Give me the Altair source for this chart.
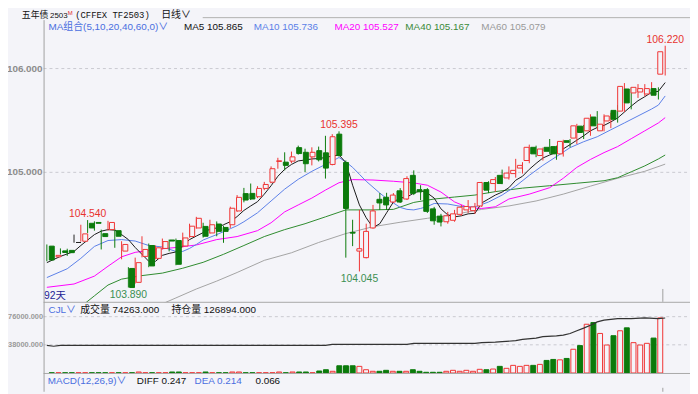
import altair as alt
import pandas as pd

# ---------------- values ----------------
opens = [104.289, 104.186, 104.243, 104.248, 104.324, 104.336, 104.509, 104.517, 104.409, 104.448,
         104.438, 104.241, 104.074, 103.940, 104.190, 104.295, 104.171, 104.267, 104.348, 104.343,
         104.290, 104.381, 104.464, 104.479, 104.416, 104.502, 104.469, 104.495, 104.628, 104.795,
         104.797, 104.765, 104.845, 104.905, 105.105, 105.098, 105.108, 105.238, 105.193, 105.149,
         105.209, 105.188, 105.076, 105.368, 105.095, 104.421, 104.241, 104.178, 104.464, 104.740,
         104.760, 104.714, 104.822, 104.743, 104.971, 104.833, 104.833, 104.648, 104.578, 104.524,
         104.538, 104.595, 104.638, 104.631, 104.676, 104.902, 104.892, 104.971, 104.946, 104.988,
         105.041, 105.114, 105.241, 105.162, 105.241, 105.248, 105.178, 105.305, 105.330, 105.445,
         105.400, 105.533, 105.400, 105.495, 105.597, 105.590, 105.803, 105.765, 105.774, 105.755,
         105.807, 105.946]
closes = [104.155, 104.200, 104.228, 104.226, 104.324, 104.407, 104.464, 104.509, 104.381, 104.517,
          104.384, 104.305, 103.890, 104.130, 104.257, 104.098, 104.273, 104.333, 104.338, 104.114,
          104.368, 104.481, 104.557, 104.384, 104.495, 104.431, 104.431, 104.654, 104.759, 104.733,
          104.743, 104.845, 104.883, 105.035, 105.111, 105.067, 105.149, 105.181, 105.083, 105.193,
          105.121, 105.041, 105.343, 105.162, 104.652, 104.414, 104.264, 104.431, 104.628, 104.705,
          104.686, 104.781, 104.714, 104.940, 104.797, 104.812, 104.624, 104.533, 104.521, 104.581,
          104.600, 104.664, 104.671, 104.667, 104.902, 104.828, 104.930, 104.892, 104.993, 105.019,
          105.067, 105.241, 105.178, 105.225, 105.203, 105.178, 105.298, 105.289, 105.448, 105.384,
          105.521, 105.448, 105.464, 105.543, 105.511, 105.828, 105.669, 105.819, 105.807, 105.807,
          105.743, 106.162]
highs = [104.305, 104.219, 104.267, 104.264, 104.400, 104.495, 104.540, 104.528, 104.448, 104.533,
         104.457, 104.336, 104.086, 104.178, 104.384, 104.314, 104.295, 104.362, 104.352, 104.362,
         104.419, 104.505, 104.571, 104.514, 104.543, 104.527, 104.486, 104.669, 104.781, 104.850,
         104.892, 104.867, 104.908, 105.057, 105.140, 105.193, 105.200, 105.257, 105.228, 105.241,
         105.248, 105.352, 105.368, 105.395, 105.114, 104.543, 104.638, 104.505, 104.686, 104.800,
         104.803, 104.800, 104.848, 104.962, 105.019, 104.876, 104.848, 104.667, 104.600, 104.619,
         104.638, 104.686, 104.733, 104.705, 104.908, 104.914, 104.955, 105.026, 105.057, 105.130,
         105.098, 105.267, 105.257, 105.238, 105.321, 105.257, 105.314, 105.321, 105.467, 105.457,
         105.559, 105.590, 105.559, 105.574, 105.648, 105.860, 105.819, 105.850, 105.850, 105.869,
         105.819, 106.220]
lows = [104.143, 104.171, 104.209, 104.195, 104.322, 104.333, 104.416, 104.438, 104.257, 104.438,
        104.273, 104.162, 103.890, 103.928, 104.181, 104.086, 104.162, 104.257, 104.238, 104.105,
        104.276, 104.371, 104.457, 104.371, 104.409, 104.384, 104.321, 104.464, 104.619, 104.711,
        104.733, 104.752, 104.828, 104.895, 105.035, 105.019, 105.088, 105.171, 105.003, 105.067,
        105.105, 104.940, 105.067, 105.152, 104.178, 104.289, 104.045, 104.171, 104.457, 104.638,
        104.638, 104.705, 104.705, 104.733, 104.781, 104.733, 104.609, 104.495, 104.479, 104.505,
        104.524, 104.581, 104.609, 104.600, 104.667, 104.800, 104.812, 104.886, 104.930, 104.949,
        104.988, 105.088, 105.146, 105.114, 105.178, 105.121, 105.152, 105.241, 105.273, 105.321,
        105.352, 105.426, 105.395, 105.426, 105.479, 105.581, 105.607, 105.717, 105.733, 105.743,
        105.702, 105.933]
volumes = [300, 300, 300, 300, 300, 300, 300, 300, 300, 300,
           300, 300, 300, 1330, 300, 300, 300, 300, 1330, 1330,
           300, 300, 300, 1330, 300, 300, 300, 1330, 1330, 300,
           300, 300, 300, 300, 1330, 300, 1330, 1330, 1330, 300,
           2670, 4400, 2270, 9730, 9730, 9730, 8930, 4400, 2270, 2270,
           3600, 2270, 2270, 2270, 4400, 2270, 930, 930, 930, 2270,
           3600, 2270, 3600, 2270, 4930, 4400, 5330, 8930, 6270, 10270,
           8930, 10270, 10270, 11600, 16930, 18270, 17730, 19600, 32000, 36930,
           65730, 68000, 53330, 37730, 50270, 56930, 60930, 40930, 37730, 40000,
           47070, 74263]

ma5_idx = [0, 2, 4, 5, 7] + list(range(8, 92))
ma5_val = [104.130, 104.190, 104.238, 104.295, 104.400,
           104.433, 104.448, 104.443, 104.400, 104.352, 104.276, 104.210, 104.143, 104.143, 104.200,
           104.219, 104.233, 104.290, 104.352, 104.386, 104.419, 104.452, 104.464, 104.495, 104.524,
           104.574, 104.633, 104.676, 104.717, 104.790, 104.871, 104.962, 105.029, 105.076, 105.110,
           105.119, 105.129, 105.133, 105.143, 105.157, 105.167, 105.095, 104.876, 104.686, 104.562,
           104.467, 104.505, 104.610, 104.714, 104.752, 104.762, 104.800, 104.824, 104.800, 104.752,
           104.648, 104.590, 104.571, 104.581, 104.600, 104.605, 104.705, 104.743, 104.781, 104.810,
           104.852, 104.924, 104.962, 105.029, 105.086, 105.138, 105.167, 105.195, 105.226, 105.267,
           105.310, 105.352, 105.400, 105.432, 105.452, 105.486, 105.524, 105.581, 105.638, 105.690,
           105.729, 105.771, 105.781, 105.865]
ma10_idx = [0, 3, 5, 7, 9, 11, 13, 15, 17, 19, 20, 21, 22, 23, 25, 27, 28, 29, 31, 33,
            35, 37, 39, 41, 43, 44, 45, 46, 47, 48, 49, 50, 51, 52, 53, 54, 55, 56, 57, 59,
            61, 63, 65, 67, 69, 71, 73, 75, 77, 79, 81, 83, 85, 87, 89, 90, 91]
ma10_val = [103.986, 104.071, 104.171, 104.286, 104.343, 104.352, 104.338, 104.295, 104.281, 104.238,
            104.238, 104.267, 104.305, 104.348, 104.400, 104.457, 104.486, 104.524, 104.610, 104.724,
            104.838, 104.933, 105.010, 105.076, 105.143, 105.100, 105.048, 104.981, 104.914, 104.857,
            104.800, 104.748, 104.705, 104.662, 104.643, 104.638, 104.652, 104.671, 104.700, 104.695,
            104.671, 104.667, 104.714, 104.781, 104.867, 104.971, 105.067, 105.152, 105.238, 105.295,
            105.343, 105.410, 105.476, 105.543, 105.610, 105.648, 105.736]
ma20_idx = [0, 4, 7, 9, 11, 13, 16, 19, 22, 25, 28, 31, 33, 35, 37, 39, 41, 43, 45, 48,
            51, 54, 56, 58, 60, 62, 64, 66, 68, 71, 74, 76, 78, 80, 82, 84, 86, 88, 90, 91]
ma20_val = [103.892, 103.924, 104.000, 104.095, 104.186, 104.229, 104.257, 104.276, 104.300, 104.352,
            104.381, 104.438, 104.514, 104.619, 104.686, 104.752, 104.829, 104.900, 104.930, 104.926,
            104.914, 104.898, 104.876, 104.810, 104.715, 104.660, 104.652, 104.668, 104.743, 104.790,
            104.852, 104.943, 105.048, 105.124, 105.190, 105.248, 105.324, 105.400, 105.476, 105.527]
ma40_idx = [5, 7, 9, 11, 14, 17, 20, 23, 26, 29, 32, 35, 38, 41, 44, 48, 51, 54, 57, 60,
            63, 66, 70, 74, 78, 82, 84, 86, 88, 90, 91]
ma40_val = [103.705, 103.810, 103.914, 103.971, 104.005, 104.029, 104.076, 104.133, 104.210, 104.295,
            104.381, 104.448, 104.505, 104.571, 104.638, 104.638, 104.643, 104.710, 104.743, 104.762,
            104.781, 104.814, 104.848, 104.871, 104.895, 104.919, 104.948, 105.005, 105.062, 105.129,
            105.167]
ma60_idx = [16, 19, 22, 25, 28, 32, 36, 40, 44, 48, 52, 56, 60, 64, 68, 72, 76, 80, 84, 88, 91]
ma60_val = [103.705, 103.790, 103.876, 103.952, 104.035, 104.152, 104.225, 104.324, 104.410, 104.476,
            104.519, 104.557, 104.595, 104.643, 104.676, 104.724, 104.790, 104.867, 104.943, 105.010,
            105.079]
oi_idx = [0, 1, 2, 41, 42, 53, 54, 63, 64, 66, 67, 69, 70, 72, 73, 75, 76, 77, 78, 79,
          80, 81, 82, 84, 86, 88, 90, 91]
oi_val = [63900, 61700, 63900, 63900, 66100, 66100, 68400, 68400, 70000, 71000,
          72300, 74500, 77500, 80500, 83700, 85500, 87300, 91000, 97400, 103500,
          110200, 118000, 122000, 125400, 125500, 127000, 125400, 126894]

hi_lab_idx = [6, 43, 91]
hi_lab_val = [104.540, 105.395, 106.220]
lo_lab_idx = [12, 46]
lo_lab_val = [103.890, 104.045]

price_ticks = [105.0, 106.0]
price_tick_labels = ["105.000", "106.000"]
vol_ticks = [38000, 76000]
vol_tick_labels = ["38000.000", "76000.000"]

# ---------------- styles ----------------
BG = "#f4f4f9"
RED = "#f03434"
GREEN = "#0b7a0b"
LBL_RED = "#e8322e"
LBL_GREEN = "#3b8f52"
BLUE_TXT = "#4a6ee0"
SANS = "Liberation Sans, Noto Sans CJK SC, sans-serif"
CJK = "Noto Sans CJK SC, sans-serif"
MONO = "Liberation Mono, monospace"

X_RNG = [39.3, 664.9]


def XE():
    return alt.X("i:Q", scale=alt.Scale(domain=[0, 91], range=X_RNG, nice=False, zero=False), axis=None)


def PY(f):
    return alt.Y(f + ":Q", scale=alt.Scale(domain=[104, 106], range=[269, 59], nice=False, zero=False), axis=None)


def VY(f):
    return alt.Y(f + ":Q", scale=alt.Scale(domain=[0, 76000], range=[367, 310], nice=False), axis=None)


def OY(f):
    return alt.Y(f + ":Q", scale=alt.Scale(domain=[0, 130000], range=[367, 310], nice=False), axis=None)


cdf = pd.DataFrame({"i": list(range(len(opens))), "o": opens, "h": highs, "l": lows,
                    "c": closes, "vol": volumes})
cdf["d"] = ["up" if c > o else ("down" if c < o else "flat") for o, c in zip(opens, closes)]

one = pd.DataFrame({"a": [0]})


def hrule(y, x1, x2, color, dash=None, w=1):
    kw = dict(color=color, strokeWidth=w)
    if dash:
        kw["strokeDash"] = dash
    return alt.Chart(one).mark_rule(**kw).encode(x=alt.value(x1), x2=alt.value(x2), y=alt.value(y))


def vrule(x, y1, y2, color, w=1):
    return alt.Chart(one).mark_rule(color=color, strokeWidth=w).encode(
        x=alt.value(x), y=alt.value(y1), y2=alt.value(y2))


def txt(x, y, s, color, size=10, weight="normal", font=SANS, align="left", baseline="alphabetic"):
    return alt.Chart(one).mark_text(color=color, fontSize=size, fontWeight=weight, font=font,
                                    align=align, baseline=baseline).encode(
        x=alt.value(x), y=alt.value(y), text=alt.value(s))


layers = []

# price grid + labels
pg = pd.DataFrame({"p": price_ticks, "lab": price_tick_labels})
layers.append(alt.Chart(pg).mark_rule(color="#c9c9d0", strokeDash=[3, 3], strokeWidth=1).encode(
    y=PY("p"), x=alt.value(36), x2=alt.value(690)))
layers.append(alt.Chart(pg).mark_text(align="right", baseline="middle", font=SANS, fontSize=10,
                                      fontWeight="bold", color="#8c8c8c").encode(
    y=PY("p"), x=alt.value(35), text="lab:N"))

# moving averages
for ix, vals, col in [(ma60_idx, ma60_val, "#a3a3a3"), (ma40_idx, ma40_val, "#2e8b2e"),
                      (ma20_idx, ma20_val, "#ff00ff"), (ma10_idx, ma10_val, "#5b7fe8"),
                      (ma5_idx, ma5_val, "#1a1a1a")]:
    d = pd.DataFrame({"i": ix, "v": vals})
    layers.append(alt.Chart(d).mark_line(color=col, strokeWidth=1).encode(x=XE(), y=PY("v")))

# candles
layers.append(alt.Chart(cdf).mark_rule(strokeWidth=1).encode(
    x=XE(), y=PY("l"), y2="h:Q",
    color=alt.Color("d:N", scale=alt.Scale(domain=["up", "down", "flat"], range=[RED, GREEN, "#222222"]),
                    legend=None)))
layers.append(alt.Chart(cdf).transform_filter("datum.d == 'up'").mark_bar(
    size=5, fill=BG, stroke=RED, strokeWidth=1).encode(x=XE(), y=PY("o"), y2="c:Q"))
layers.append(alt.Chart(cdf).transform_filter("datum.d == 'down'").mark_bar(
    size=5, fill=GREEN, stroke=GREEN, strokeWidth=1).encode(x=XE(), y=PY("o"), y2="c:Q"))
layers.append(alt.Chart(cdf).transform_filter("datum.d == 'flat'").mark_bar(
    size=5, fill="#222222", stroke="#222222", strokeWidth=1).encode(x=XE(), y=PY("o"), y2="c:Q"))

# high / low annotations
hl = pd.DataFrame({"i": hi_lab_idx, "p": hi_lab_val, "lab": [f"{v:.3f}" for v in hi_lab_val]})
ll = pd.DataFrame({"i": lo_lab_idx, "p": lo_lab_val, "lab": [f"{v:.3f}" for v in lo_lab_val]})
layers.append(alt.Chart(hl).mark_text(color=LBL_RED, font=SANS, fontSize=10.5, baseline="alphabetic",
                                      dy=-3).encode(x=XE(), y=PY("p"), text="lab:N"))
layers.append(alt.Chart(ll).mark_text(color=LBL_GREEN, font=SANS, fontSize=10.5, baseline="top",
                                      dy=3).encode(x=XE(), y=PY("p"), text="lab:N"))

layers.append(txt(36.5, 292, "92天", "#1e1e96", size=10.5))

# cover below main panel
layers.append(alt.Chart(one).mark_rect(fill=BG).encode(
    x=alt.value(0), x2=alt.value(690), y=alt.value(295.5), y2=alt.value(386)))

# volume panel
vg = pd.DataFrame({"v": vol_ticks, "lab": vol_tick_labels})
layers.append(alt.Chart(vg).mark_rule(color="#c9c9d0", strokeDash=[3, 3], strokeWidth=1).encode(
    y=VY("v"), x=alt.value(36), x2=alt.value(690)))
layers.append(alt.Chart(vg).mark_text(align="right", baseline="middle", font=SANS, fontSize=7.5,
                                      fontWeight="bold", color="#9a9a9a").encode(
    y=VY("v"), x=alt.value(35.5), text="lab:N"))
layers.append(alt.Chart(cdf).transform_filter("datum.d != 'down'").mark_bar(
    size=5, fill=BG, stroke=RED, strokeWidth=1).encode(x=XE(), y=VY("vol")))
layers.append(alt.Chart(cdf).transform_filter("datum.d == 'down'").mark_bar(
    size=5, fill=GREEN, stroke=GREEN, strokeWidth=1).encode(x=XE(), y=VY("vol")))
odf = pd.DataFrame({"i": oi_idx, "oi": oi_val})
layers.append(alt.Chart(odf).mark_line(color="#333333", strokeWidth=1.2).encode(x=XE(), y=OY("oi")))

# frame lines
layers.append(hrule(295.5, 36, 690, "#a8a8a8"))
layers.append(hrule(367.5, 36, 690, "#a8a8a8"))
layers.append(hrule(7.5, 197, 690, "#b0b0b0"))
layers.append(vrule(36.5, 10, 386, "#a0a0a0"))
layers.append(vrule(662.5, 282, 295, "#a0a0a0"))
layers.append(vrule(662.5, 382, 386, "#a0a0a0"))

# title bar
layers.append(txt(14, 8, "五年债", "#111111", size=9, font=CJK))
layers.append(txt(42.5, 8, "2503", "#111111", size=8))
layers.append(txt(60.5, 4.5, "M", "#e03030", size=6))
layers.append(txt(68, 8, "(CFFEX TF2503)", "#111111", size=9, font=MONO))
layers.append(txt(155, 8, "日线∨", "#111111", size=10, font=CJK))

# MA legend
LY = 20
layers.append(txt(41, LY, "MA组合(5,10,20,40,60,0)∨", BLUE_TXT))
layers.append(txt(178, LY, "MA5 105.865", "#111111"))
layers.append(txt(248.7, LY, "MA10 105.736", "#5b7fe8"))
layers.append(txt(330.3, LY, "MA20 105.527", "#ff00ff"))
layers.append(txt(402, LY, "MA40 105.167", "#3a8a3a"))
layers.append(txt(478.7, LY, "MA60 105.079", "#9a9a9a"))

# volume legend
layers.append(txt(41, 306, "CJL∨", BLUE_TXT))
layers.append(txt(73, 306, "成交量 74263.000", "#111111"))
layers.append(txt(165.3, 306, "持仓量 126894.000", "#111111"))

# MACD legend
layers.append(txt(40.3, 378, "MACD(12,26,9)∨", BLUE_TXT))
layers.append(txt(130.3, 378, "DIFF 0.247", "#111111"))
layers.append(txt(188.7, 378, "DEA 0.214", BLUE_TXT))
layers.append(txt(250.3, 378, "0.066", "#111111"))

chart = alt.layer(*layers).resolve_scale(x="independent", y="independent", color="independent").properties(
    width=690, height=386, autosize=alt.AutoSizeParams(type="none"), padding=0, background=BG
).configure_view(stroke=None)

chart.save("out.html", embed_options={"renderer": "svg", "actions": False})
